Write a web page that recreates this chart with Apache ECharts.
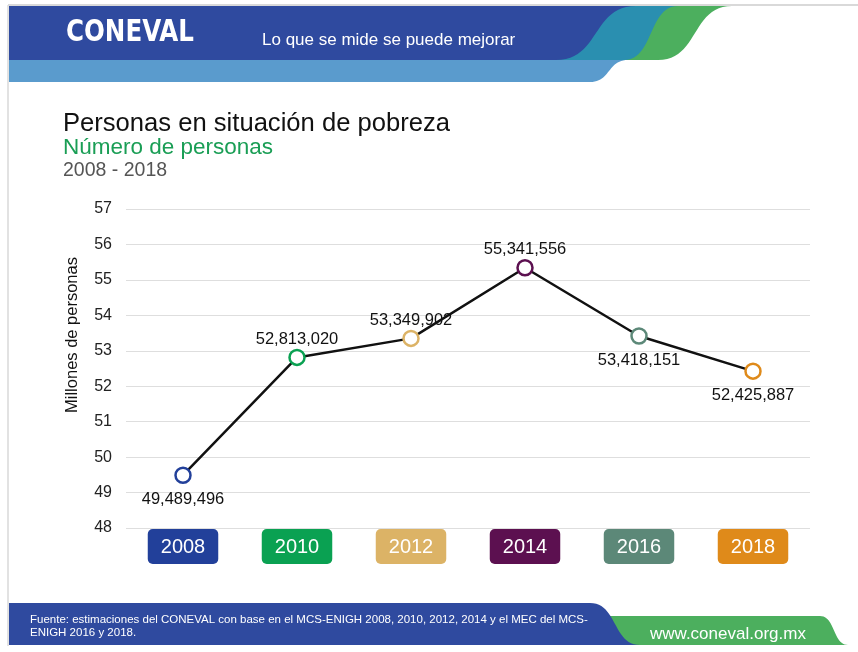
<!DOCTYPE html>
<html>
<head>
<meta charset="utf-8">
<script src="https://cdn.jsdelivr.net/npm/echarts@6/dist/echarts.min.js"></script>
<style>
    html, body { margin: 0; padding: 0; background: #fff; }
    #main { width: 858px; height: 652px; }
</style>
</head>
<body>
<div id="main"></div>
<script>
    // datos de la gráfica
    var years = ['2008', '2010', '2012', '2014', '2016', '2018'];
    var personas = [49489496, 52813020, 53349902, 55341556, 53418151, 52425887];
    var yTicks = [48, 49, 50, 51, 52, 53, 54, 55, 56, 57];

    // colores por año y posición de las etiquetas
    var yearColors = ['#22409a', '#0aa152', '#dcb366', '#5c1050', '#5c8878', '#df8a1a'];
    var labelPos = ['bottom', 'top', 'top', 'top', 'bottom', 'bottom'];

    var FONT = '"Liberation Sans", Arial, sans-serif';

    // curva en "S" con tangentes horizontales (para las franjas del encabezado/pie)
    function sCurve(x0, y0, x1, y1) {
        var pts = [];
        var dx = (x1 - x0) * 0.55;
        for (var i = 0; i <= 24; i++) {
            var t = i / 24, u = 1 - t;
            var x = u * u * u * x0 + 3 * u * u * t * (x0 + dx) + 3 * u * t * t * (x1 - dx) + t * t * t * x1;
            var y = u * u * u * y0 + 3 * u * u * t * y0 + 3 * u * t * t * y1 + t * t * t * y1;
            pts.push([x, y]);
        }
        return pts;
    }

    function band(start, curve, end) {
        return [start].concat(curve).concat([end]);
    }

    var richLabels = {};
    yearColors.forEach(function (c, i) {
        richLabels['c' + i] = {
            backgroundColor: c,
            color: '#fff',
            fontSize: 20,
            fontFamily: FONT,
            padding: [8, 13, 7, 13],
            borderRadius: 5
        };
    });

    var seriesData = personas.map(function (v, i) {
        return {
            value: v / 1e6,
            itemStyle: { color: '#fff', borderColor: yearColors[i], borderWidth: 2.5 },
            label: { position: labelPos[i], distance: labelPos[i] === 'top' ? 1 : 7 }
        };
    });

    var graphics = [
        // marco
        { type: 'line', shape: { x1: 8, y1: 5, x2: 858, y2: 5 }, style: { stroke: '#d9d9d9', lineWidth: 2 } },
        { type: 'line', shape: { x1: 8, y1: 5, x2: 8, y2: 646 }, style: { stroke: '#d9d9d9', lineWidth: 1.5 } },
        // encabezado
        { type: 'polygon', shape: { points: band([540, 6], sCurve(732, 6, 658, 60), [540, 60]) }, style: { fill: '#4caf5e' } },
        { type: 'polygon', shape: { points: band([540, 6], sCurve(678, 6, 624, 60), [540, 60]) }, style: { fill: '#2a8fb0' } },
        { type: 'polygon', shape: { points: band([9, 6], sCurve(636, 6, 556, 60), [9, 60]) }, style: { fill: '#2f4a9f' } },
        { type: 'polygon', shape: { points: band([9, 60], sCurve(628, 60, 590, 82), [9, 82]) }, style: { fill: '#5a9bcd' } },
        {
            type: 'text', x: 66, y: 33, scaleX: 0.88,
            style: { text: 'CONEVAL', fill: '#fff', font: 'bold 31px "DejaVu Sans Condensed", sans-serif', verticalAlign: 'middle' }
        },
        {
            type: 'text', x: 262, y: 40,
            style: { text: 'Lo que se mide se puede mejorar', fill: '#fff', font: '17px ' + FONT, verticalAlign: 'middle' }
        },
        // títulos
        {
            type: 'text', x: 63, y: 124,
            style: { text: 'Personas en situación de pobreza', fill: '#111', font: '25.6px ' + FONT, verticalAlign: 'middle' }
        },
        {
            type: 'text', x: 63, y: 148,
            style: { text: 'Número de personas', fill: '#1a9e55', font: '22.5px ' + FONT, verticalAlign: 'middle' }
        },
        {
            type: 'text', x: 63, y: 171,
            style: { text: '2008 - 2018', fill: '#555', font: '19.5px ' + FONT, verticalAlign: 'middle' }
        },
        {
            type: 'text', x: 72, y: 335, rotation: Math.PI / 2,
            style: { text: 'Millones de personas', fill: '#111', font: '16.5px ' + FONT, align: 'center', verticalAlign: 'middle' }
        },
        // pie
        { type: 'polygon', shape: { points: band([560, 616], sCurve(820, 616, 848, 645), [560, 645]) }, style: { fill: '#4caf5e' } },
        { type: 'polygon', shape: { points: band([9, 603], sCurve(590, 603, 640, 645), [9, 645]) }, style: { fill: '#2f4a9f' } },
        {
            type: 'text', x: 30, y: 626,
            style: {
                text: 'Fuente: estimaciones del CONEVAL con base en el MCS-ENIGH 2008, 2010, 2012, 2014 y el MEC del MCS-\nENIGH 2016 y 2018.',
                fill: '#fff', font: '11.5px ' + FONT, lineHeight: 13, verticalAlign: 'middle'
            }
        },
        {
            type: 'text', x: 650, y: 634,
            style: { text: 'www.coneval.org.mx', fill: '#fff', font: '17px ' + FONT, verticalAlign: 'middle' }
        }
    ];

    var myChart = echarts.init(document.getElementById('main'));
    var option = {
        animation: false,
        backgroundColor: '#fff',
        grid: { left: 126, right: 48, top: 209, bottom: 124 },
        xAxis: {
            type: 'category',
            data: years,
            axisLine: { show: false },
            axisTick: { show: false },
            axisLabel: {
                margin: 1,
                formatter: function (v, i) { return '{c' + i + '|' + v + '}'; },
                rich: richLabels
            }
        },
        yAxis: {
            type: 'value',
            min: yTicks[0],
            max: yTicks[yTicks.length - 1],
            interval: 1,
            axisLine: { show: false },
            axisTick: { show: false },
            axisLabel: { color: '#222', fontSize: 16, fontFamily: FONT, margin: 14 },
            splitLine: { lineStyle: { color: '#dedede', width: 1 } }
        },
        series: [
            {
                type: 'line',
                data: seriesData,
                symbol: 'circle',
                symbolSize: 15,
                lineStyle: { color: '#111', width: 2.5 },
                label: {
                    show: true,
                    color: '#111',
                    fontSize: 16.5,
                    fontFamily: FONT,
                    formatter: function (p) { return personas[p.dataIndex].toLocaleString('en-US'); }
                },
                emphasis: { disabled: true },
                z: 3
            }
        ],
        graphic: graphics
    };
    myChart.setOption(option);
</script>
</body>
</html>
